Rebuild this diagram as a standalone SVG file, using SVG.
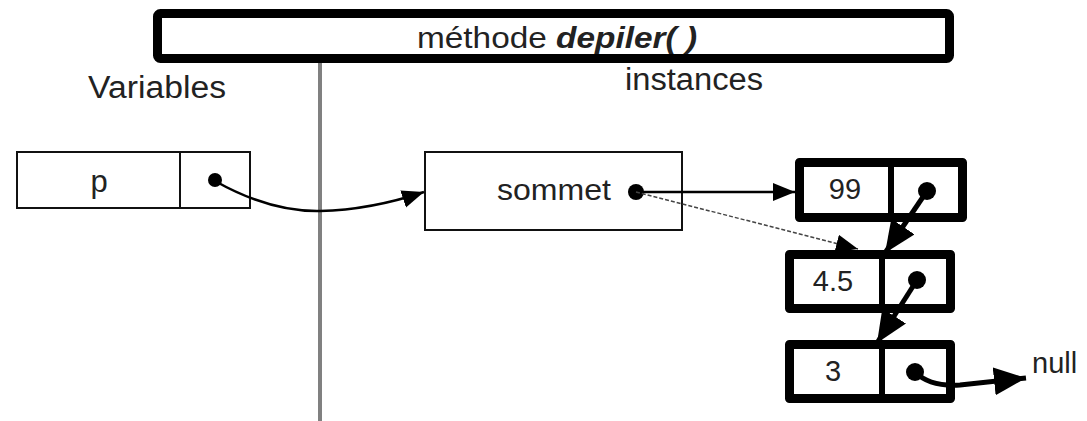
<svg xmlns="http://www.w3.org/2000/svg" width="1087" height="421" viewBox="0 0 1087 421">
<defs>
<style>
text{font-family:"Liberation Sans",Arial,sans-serif;fill:#222;}
.thin{fill:#fff;stroke:#111;stroke-width:2;}
.thick{fill:#fff;stroke:#000;stroke-width:9;stroke-linejoin:round;}
.div{stroke:#000;stroke-width:6;}
.conn{fill:none;stroke:#000;stroke-width:2.5;}
.fat{fill:none;stroke:#000;stroke-width:5;}
.dash{fill:none;stroke:#444;stroke-width:1.5;stroke-dasharray:4 2;}
.dot{fill:#000;}
</style>
<marker id="ah" markerUnits="userSpaceOnUse" markerWidth="24" markerHeight="20" refX="22" refY="9" orient="auto"><path d="M0,0 L22,9 L0,18 Z" fill="#000"/></marker>
<marker id="ahb" markerUnits="userSpaceOnUse" markerWidth="34" markerHeight="30" refX="32" refY="14" orient="auto"><path d="M0,0 L32,14 L0,28 Z" fill="#000"/></marker>
</defs>
<g id="title">
<rect x="157.5" y="13.5" width="792" height="45" rx="3" class="thick"/>
<text x="557" y="48" font-size="30" text-anchor="middle" textLength="280" lengthAdjust="spacingAndGlyphs">méthode <tspan font-weight="bold" font-style="italic">depiler( )</tspan></text>
</g>
<line id="separator" x1="320" y1="63" x2="320" y2="421" stroke="#808080" stroke-width="4"/>
<text id="label-variables" x="157" y="98" font-size="31" text-anchor="middle" textLength="138" lengthAdjust="spacingAndGlyphs">Variables</text>
<text id="label-instances" x="694" y="90" font-size="31" text-anchor="middle" textLength="138" lengthAdjust="spacingAndGlyphs">instances</text>
<g id="var-p">
<rect x="17" y="152" width="233" height="56" class="thin"/>
<line x1="180" y1="152" x2="180" y2="208" stroke="#111" stroke-width="2"/>
<text x="99" y="192" font-size="31" text-anchor="middle">p</text>
<circle cx="215" cy="180" r="7" class="dot"/>
</g>
<g id="pile">
<rect x="425" y="152" width="257" height="78" class="thin"/>
<text x="611" y="200" font-size="30" text-anchor="end" textLength="114" lengthAdjust="spacingAndGlyphs">sommet</text>
<circle cx="636" cy="192" r="8" class="dot"/>
</g>
<g id="cell-99">
<rect x="799.5" y="162.5" width="163" height="55" class="thick"/>
<line x1="891" y1="162" x2="891" y2="218" class="div"/>
<text x="845" y="199" font-size="29" text-anchor="middle">99</text>
<circle cx="927" cy="191" r="9" class="dot"/>
</g>
<g id="cell-45">
<rect x="789.5" y="254.5" width="161" height="54" class="thick"/>
<line x1="882" y1="254" x2="882" y2="309" class="div"/>
<text x="833" y="291" font-size="29" text-anchor="middle">4.5</text>
<circle cx="917" cy="280" r="9" class="dot"/>
</g>
<g id="cell-3">
<rect x="789.5" y="344.5" width="161" height="54" class="thick"/>
<line x1="882" y1="344" x2="882" y2="399" class="div"/>
<text x="833" y="381" font-size="29" text-anchor="middle">3</text>
<circle cx="915" cy="372" r="9" class="dot"/>
</g>
<text id="label-null" x="1032" y="373" font-size="29">null</text>
<g id="connectors">
<path d="M215,181 Q270,212 320,211 Q370,210 424,192" class="conn" marker-end="url(#ah)"/>
<path d="M636,192 L795,192" class="conn" marker-end="url(#ah)"/>
<path d="M636,192 L858,249" class="dash" marker-end="url(#ah)"/>
<path d="M927,191 L885,253" class="fat" marker-end="url(#ahb)"/>
<path d="M917,280 L877,343" class="fat" marker-end="url(#ahb)"/>
<path d="M915,372 Q930,387 960,385 L1026,378" class="fat" marker-end="url(#ahb)"/>
</g>
</svg>
